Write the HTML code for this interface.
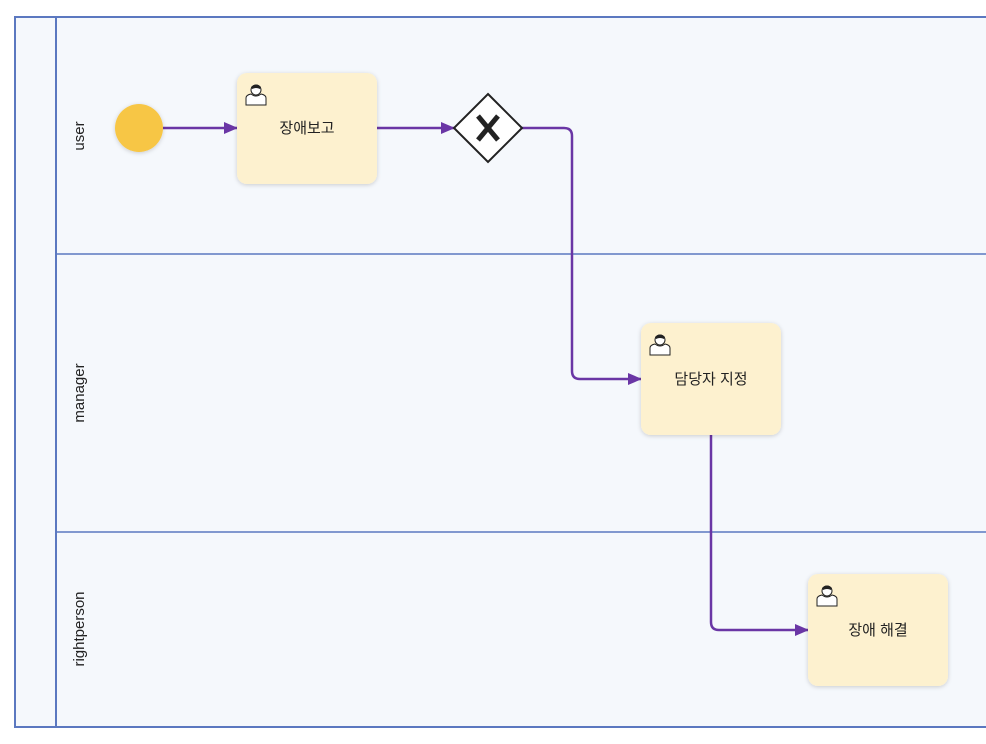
<!DOCTYPE html>
<html><head><meta charset="utf-8"><style>body{margin:0;background:#fff;}</style></head><body>
<svg width="986" height="744" xmlns="http://www.w3.org/2000/svg" style="display:block">
<defs>
<marker id="a" markerWidth="14" markerHeight="14" refX="13" refY="7" orient="auto" markerUnits="userSpaceOnUse"><path d="M0,1 L14,7 L0,13 z" fill="#6a36a5"/></marker>
<filter id="s" x="-20%" y="-20%" width="140%" height="140%"><feDropShadow dx="0" dy="1" stdDeviation="2" flood-color="#000" flood-opacity="0.18"/></filter>
<g id="u"><circle cx="0" cy="-5" r="5" fill="#fff" stroke="#222" stroke-width="1"/><path d="M-5,-8 Q0,-13 5,-8 L4,-6 Q0,-8 -4,-6z" fill="#222"/><path d="M-10,10 L-10,3 Q-10,0 -5,-1 Q0,3 5,-1 Q10,0 10,3 L10,10z" fill="#fff" stroke="#222" stroke-width="1"/></g>
</defs>
<rect x="15" y="17" width="990" height="710" fill="#f5f8fc" stroke="#5b78c0" stroke-width="2"/>
<line x1="56" y1="17" x2="56" y2="727" stroke="#5b78c0" stroke-width="2"/>
<line x1="56" y1="254" x2="986" y2="254" stroke="#5b78c0" stroke-width="1.5"/>
<line x1="56" y1="532" x2="986" y2="532" stroke="#5b78c0" stroke-width="1.5"/>
<g font-family="Liberation Sans, sans-serif" font-size="15" fill="#222" text-anchor="middle">
<text transform="translate(84,136) rotate(-90)">user</text>
<text transform="translate(84,393) rotate(-90)">manager</text>
<text transform="translate(84,629) rotate(-90)">rightperson</text>
</g>
<g fill="none" stroke="#6a36a5" stroke-width="2.5">
<path d="M163,128 L237,128" marker-end="url(#a)"/>
<path d="M377,128 L454,128" marker-end="url(#a)"/>
<path d="M522,128 L564,128 Q572,128 572,136 L572,371 Q572,379 580,379 L641,379" marker-end="url(#a)"/>
<path d="M711,435 L711,622 Q711,630 719,630 L808,630" marker-end="url(#a)"/>
</g>
<circle cx="139" cy="128" r="24" fill="#f7c644" filter="url(#s)"/>
<g filter="url(#s)">
<rect x="237" y="73" width="140" height="111" rx="10" fill="#fdf1cf"/>
<rect x="641" y="323" width="140" height="112" rx="10" fill="#fdf1cf"/>
<rect x="808" y="574" width="140" height="112" rx="10" fill="#fdf1cf"/>
</g>
<use href="#u" x="256" y="95"/><use href="#u" x="660" y="345"/><use href="#u" x="827" y="596"/>
<polygon points="488,94 522,128 488,162 454,128" fill="#fff" stroke="#222" stroke-width="2"/>
<path d="M478,116 L498,140 M498,116 L478,140" stroke="#222" stroke-width="5"/>
<g font-family="Liberation Sans, 'Noto Sans CJK KR', sans-serif" font-size="15" fill="#222" text-anchor="middle">
<text x="307" y="133">장애보고</text>
<text x="711" y="384">담당자 지정</text>
<text x="878" y="635">장애 해결</text>
</g>
</svg>
</body></html>
